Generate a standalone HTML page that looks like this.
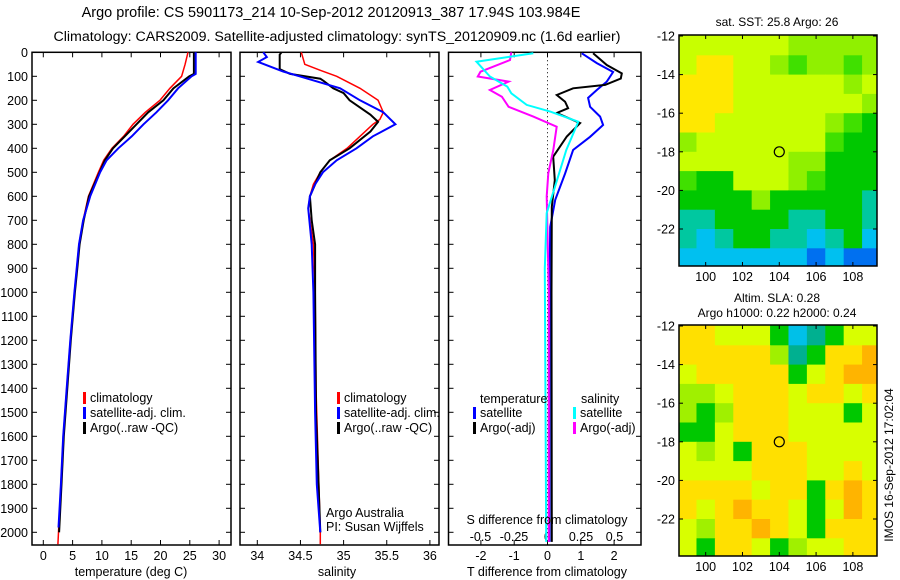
<!DOCTYPE html>
<html><head><meta charset="utf-8"><style>
html,body{margin:0;padding:0;background:#fff;}
svg{display:block;font-family:"Liberation Sans",sans-serif;}
text{fill:#000;}
</style></head><body>
<svg id="fig" width="900" height="580" viewBox="0 0 900 580" xmlns="http://www.w3.org/2000/svg">
<defs>
<clipPath id="c1"><rect x="679" y="35" width="198" height="231"/></clipPath>
<clipPath id="c2"><rect x="679" y="325" width="198" height="231"/></clipPath>
</defs>
<text x="331" y="17" font-size="14.5" text-anchor="middle">Argo profile: CS 5901173_214 10-Sep-2012 20120913_387 17.94S 103.984E</text>
<text x="337" y="41" font-size="14.2" text-anchor="middle">Climatology: CARS2009. Satellite-adjusted climatology: synTS_20120909.nc (1.6d earlier)</text>
<g id="plots"></g>
<text x="777" y="26" font-size="12" text-anchor="middle">sat. SST: 25.8 Argo: 26</text>
<text x="777" y="302" font-size="12" text-anchor="middle">Altim. SLA: 0.28</text>
<text x="777" y="317" font-size="12" text-anchor="middle">Argo h1000: 0.22 h2000: 0.24</text>
<text transform="translate(893,465) rotate(-90)" font-size="12" text-anchor="middle">IMOS 16-Sep-2012 17:02:04</text>
</svg>
<script>
// ---------- data ----------
const depthTicks=[0,100,200,300,400,500,600,700,800,900,1000,1100,1200,1300,1400,1500,1600,1700,1800,1900,2000];
const tempTicks=[0,5,10,15,20,25,30];
const salTicks=[34,34.5,35,35.5,36];
const salTickLabels=["34","34.5","35","35.5","36"];
const dTTicks=[-2,-1,0,1,2];
const dSTicks=[-0.5,-0.25,0,0.25,0.5];
const dSTickLabels=["-0.5","-0.25","0","0.25","0.5"];

const tClimDepth=[0,50,100,150,200,250,300,350,400,450,500,600,700,800,900,1000,1200,1400,1600,1800,2000,2050];
const tClimVal=[24.7,24.2,23.6,21.6,19.9,17.4,15.3,13.7,11.7,10.3,9.4,7.7,6.8,6.1,5.7,5.3,4.6,4.0,3.4,3.0,2.6,2.5];
const tSatDepth=[0,90,100,150,200,250,300,350,400,450,500,600,700,800,900,1000,1200,1400,1600,1800,1980];
const tSatVal=[26.0,26.0,25.3,23.0,21.3,19.3,17.1,15.1,12.8,10.8,9.7,8.0,6.8,6.1,5.7,5.3,4.6,4.0,3.4,3.0,2.6];
const tArgoDepth=[0,90,100,150,200,250,300,350,400,450,500,600,700,800,900,1000,1200,1400,1600,1800,2000];
const tArgoVal=[25.7,25.7,24.9,22.2,20.5,17.9,15.9,13.9,11.9,10.5,9.6,7.8,6.9,6.2,5.8,5.4,4.7,4.1,3.5,3.1,2.7];

const sClimDepth=[0,50,75,100,150,200,250,280,300,350,400,450,500,550,600,650,700,800,1000,1400,2000,2050];
const sClimVal=[34.51,34.55,34.73,34.92,35.19,35.40,35.46,35.42,35.34,35.19,35.04,34.84,34.73,34.65,34.61,34.59,34.61,34.65,34.67,34.68,34.73,34.73];
const sSatDepth=[0,20,40,80,100,150,200,250,300,350,400,450,500,550,600,650,800,1000,1500,1800,2000];
const sSatVal=[34.07,34.11,34.01,34.30,34.49,34.96,35.19,35.46,35.60,35.34,35.15,34.92,34.76,34.67,34.61,34.59,34.63,34.65,34.67,34.69,34.73];
const sArgoDepth=[0,10,70,90,110,120,150,170,200,220,260,290,330,400,450,500,600,700,800,1000,1500,2000];
const sArgoVal=[34.28,34.26,34.26,34.38,34.73,34.77,34.88,35.0,35.07,35.15,35.31,35.40,35.31,35.07,34.84,34.73,34.61,34.63,34.67,34.67,34.68,34.73];

const dTSatDepth=[4,45,82,122,157,190,227,268,303,352,407,505,615,728,1000,2040];
const dTSatVal=[1.03,1.48,1.97,1.78,1.48,1.22,1.28,1.58,1.67,1.28,0.77,0.53,0.23,0.08,0.06,0.06];
const dTArgoDepth=[4,53,88,109,136,150,178,206,233,253,295,351,435,533,644,1000,2040];
const dTArgoVal=[1.37,1.78,2.23,2.2,1.73,0.77,0.28,0.53,0.62,0.28,0.98,0.58,0.17,0.22,0.13,0.12,0.13];
const dSSatDepth=[4,39,101,143,171,219,247,289,407,560,670,900,2040];
const dSSatVal=[-0.106,-0.53,-0.43,-0.30,-0.27,-0.155,0.02,0.23,0.14,0.056,-0.006,-0.02,-0.01];
const dSArgoDepth=[0,32,81,101,122,157,185,227,268,310,407,504,600,1000,2040];
const dSArgoVal=[-0.27,-0.28,-0.50,-0.52,-0.29,-0.43,-0.34,-0.29,-0.106,0.069,0.043,0.006,-0.006,0.01,0.01];

// map data: rows from -12 southward (1 deg), columns from 98.5 eastward (1 deg); colour level index
const sstRows=["77777766666","78877656656","88877777767","88877777776","88777777654","67777777544","77777766444","54477765444","44446444443","33444433443","32344332342","22222221211"];
const slaRows=["88777423477","88888634889","78888847899","66788878878","64688877747","44788877777","76748887777","77778887787","88887884898","87898874798","76889874888","74887467788"];
const lonTicks=[100,102,104,106,108];
const latTicks=[-12,-14,-16,-18,-20,-22];
const argoLon=[104], argoLat=[-18];

// ---------- drawing ----------
const NS="http://www.w3.org/2000/svg";
const root=document.getElementById('plots');
function mk(tag,attrs,parent){const e=document.createElementNS(NS,tag);for(const k in attrs)e.setAttribute(k,attrs[k]);(parent||root).appendChild(e);return e;}
function txt(s,attrs,parent){const e=mk('text',attrs,parent);e.textContent=s;return e;}

const yTop=52.3, yPer=0.24, yBot=545;
const yD=d=>yTop+d*yPer;

function panel(name,x0,x1,xf,ticks,labels,showY){
  const g=mk('g',{});
  
  
  const fr=mk('rect',{x:x0,y:yTop,width:x1-x0,height:yBot-yTop,fill:'none',stroke:'#000','stroke-width':1.5},g);
  
  
  depthTicks.forEach(d=>{
    mk('line',{x1:x0,x2:x0+5,y1:yD(d),y2:yD(d),stroke:'#000'},g);
    mk('line',{x1:x1-5,x2:x1,y1:yD(d),y2:yD(d),stroke:'#000'},g);
    if(showY){const t=txt(String(d),{x:x0-4,y:yD(d)+4.5,'font-size':12.5,'text-anchor':'end'},g);
      
      }
  });
  ticks.forEach((v,i)=>{
    const x=xf(v);
    mk('line',{x1:x,x2:x,y1:yBot,y2:yBot-5,stroke:'#000'},g);
    mk('line',{x1:x,x2:x,y1:yTop,y2:yTop+5,stroke:'#000'},g);
    if(labels){const t=txt(labels[i],{x:x,y:yBot+15,'font-size':12.5,'text-anchor':'middle'},g);
      
      }
  });
  return g;
}
function series(name,g,depths,vals,xf,color,w){
  const pts=depths.map((d,i)=>xf(vals[i]).toFixed(1)+','+yD(d).toFixed(1)).join(' ');
  const p=mk('polyline',{points:pts,fill:'none',stroke:color,'stroke-width':w},g);
  
  
}
function legend(g,x,y,items){
  items.forEach((it,i)=>{
    const yy=y+i*15;
    mk('rect',{x:x,y:yy-10,width:3,height:12,fill:it[1]},g);
    const t=txt(it[0],{x:x+7,y:yy,'font-size':12.5},g);
    
    
  });
}

// Panel 1 temperature
const xT=v=>43.3+v*5.86;
const g1=panel('temperature-panel',32,231,xT,tempTicks,tempTicks.map(String),true);
series('temp-climatology',g1,tClimDepth,tClimVal,xT,'#f00',1.5);
series('temp-argo',g1,tArgoDepth,tArgoVal,xT,'#000',2);
series('temp-satellite',g1,tSatDepth,tSatVal,xT,'#00f',2);
legend(g1,83,402,[['climatology','#f00'],['satellite-adj. clim.','#00f'],['Argo(..raw -QC)','#000']]);
txt('temperature (deg C)',{x:131,y:576,'font-size':12.5,'text-anchor':'middle'},g1);

// Panel 2 salinity
const xS=v=>257.3+(v-34)*86.3;
const g2=panel('salinity-panel',240,439,xS,salTicks,salTickLabels,false);
series('sal-climatology',g2,sClimDepth,sClimVal,xS,'#f00',1.5);
series('sal-argo',g2,sArgoDepth,sArgoVal,xS,'#000',2);
series('sal-satellite',g2,sSatDepth,sSatVal,xS,'#00f',2);
legend(g2,337,402,[['climatology','#f00'],['satellite-adj. clim.','#00f'],['Argo(..raw -QC)','#000']]);
txt('salinity',{x:337,y:576,'font-size':12.5,'text-anchor':'middle'},g2);
txt('Argo Australia',{x:326,y:517,'font-size':12.5},g2);
txt('PI: Susan Wijffels',{x:326,y:531,'font-size':12.5},g2);

// Panel 3 differences
const xdT=v=>547.5+v*33.3;
const xdS=v=>547.5+v*134;
const g3=panel('difference-panel',448.5,641,xdT,dTTicks,dTTicks.map(String),false);
dSTicks.forEach((v,i)=>{const t=txt(dSTickLabels[i],{x:xdS(v),y:541,'font-size':12.5,'text-anchor':'middle'},g3);
  
  });
mk('line',{x1:xdT(0),x2:xdT(0),y1:yTop,y2:yBot,stroke:'#000','stroke-dasharray':'1,3'},g3);
series('t-diff-satellite',g3,dTSatDepth,dTSatVal,xdT,'#00f',2);
series('t-diff-argo',g3,dTArgoDepth,dTArgoVal,xdT,'#000',2);
series('s-diff-argo',g3,dSArgoDepth,dSArgoVal,xdS,'#f0f',2);
series('s-diff-satellite',g3,dSSatDepth,dSSatVal,xdS,'#0ff',2);
txt('temperature',{x:480,y:403,'font-size':12.5},g3);
txt('salinity',{x:581,y:403,'font-size':12.5},g3);
legend(g3,473,417,[['satellite','#00f'],['Argo(-adj)','#000']]);
legend(g3,573,417,[['satellite','#0ff'],['Argo(-adj)','#f0f']]);
txt('S difference from climatology',{x:547,y:524,'font-size':12.5,'text-anchor':'middle'},g3);
txt('T difference from climatology',{x:547,y:576,'font-size':12.5,'text-anchor':'middle'},g3);

// Maps
const sstCol=['#0020a0','#0070f0','#00c0f0','#00c8a0','#00c800','#40e000','#90f000','#c8ff00','#ffe800','#ffb000'];
const slaCol=['#0020a0','#0070f0','#00c0e8','#00b090','#00c800','#40e000','#a0f000','#d8ff00','#ffe000','#ffb400'];
function mapPanel(name,y0,rows,cols,clip){
  const x0=679,w=198,h=231;
  const lonX=lo=>x0+(lo-98.55)*18.4;
  const latY=la=>y0+1+(-12-la)*19.3;
  const g=mk('g',{});
  
  
  const cg=mk('g',{'clip-path':'url(#'+clip+')'},g);
  rows.forEach((r,ri)=>{
    for(let ci=0;ci<r.length;ci++){
      const lo=98.5+ci, la=-12-ri;
      const xa=lonX(lo), xb=lonX(lo+1);
      const ya=latY(la), yb=latY(la-1);
      const c=mk('rect',{x:(ci==0?x0-10:xa),y:(ri==0?y0-10:ya),width:(ci==r.length-1?x0+w+10:xb)-(ci==0?x0-10:xa)+0.5,height:(ri==rows.length-1?y0+h+10:yb)-(ri==0?y0-10:ya)+0.5,fill:cols[+r[ci]]},cg);
      
      
    }
  });
  mk('rect',{x:x0,y:y0,width:w,height:h,fill:'none',stroke:'#000','stroke-width':1.5},g);
  lonTicks.forEach(lo=>{
    const x=lonX(lo);
    mk('line',{x1:x,x2:x,y1:y0+h,y2:y0+h-4,stroke:'#000'},g);
    mk('line',{x1:x,x2:x,y1:y0,y2:y0+4,stroke:'#000'},g);
    const t=txt(String(lo),{x:x,y:y0+h+15,'font-size':12.5,'text-anchor':'middle'},g);
    
    
  });
  latTicks.forEach(la=>{
    const y=latY(la);
    mk('line',{x1:x0,x2:x0+4,y1:y,y2:y,stroke:'#000'},g);
    mk('line',{x1:x0+w-4,x2:x0+w,y1:y,y2:y,stroke:'#000'},g);
    const t=txt(String(la),{x:x0-4,y:y+4.5,'font-size':12.5,'text-anchor':'end'},g);
    
    
  });
  const m=mk('circle',{cx:lonX(argoLon[0]),cy:latY(argoLat[0]),r:5,fill:'none',stroke:'#000','stroke-width':1.2},g);
  
  
}
mapPanel('sst-map',35,sstRows,sstCol,'c1');
mapPanel('sla-map',325,slaRows,slaCol,'c2');
</script>
</body></html>
